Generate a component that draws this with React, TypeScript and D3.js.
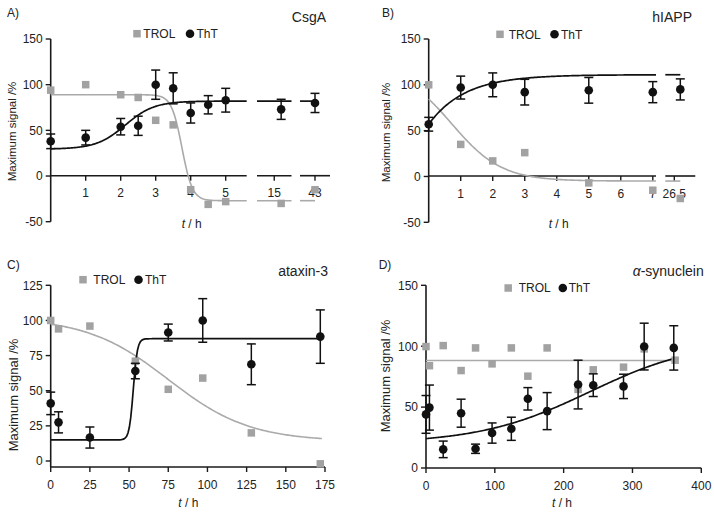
import React from 'react';
import * as d3 from 'd3';

const FONT = '"Liberation Sans", Arial, Helvetica, sans-serif';
const GREY = '#a2a2a2';
const GREY_LINE = '#aaaaaa';
const BLACK = '#111111';

// ---------- Panel A: CsgA ----------
const aTimeTROL = [0, 1, 2, 2.5, 3, 3.5, 4, 4.5, 5, 16, 43];
const aTROL = [94, 100, 89, 86, 61, 56, -15, -31, -28, -30, -15];
const aTimeThT = [0, 1, 2, 2.5, 3, 3.5, 4, 4.5, 5, 16, 43];
const aThT = [38, 42, 54, 55, 100, 96, 69, 78, 83, 73, 80];
const aThTErr = [8, 8, 9, 10.5, 16, 17, 11, 10, 13, 11, 10.5];
const aXTicks = [1, 2, 3, 4, 5, 15, 43];
const aXTickLabels = ['1', '2', '3', '4', '5', '15', '43'];
const aYTicks = [-50, 0, 50, 100, 150];
// fitted curves: [bottom, top, midpoint, slope]
const aFitTROL = [-27, 89, 3.75, 0.15];
const aFitThT = [29.5, 82, 2.13, 0.415];

// ---------- Panel B: hIAPP ----------
const bTime = [0, 1, 2, 3, 5, 7, 27.5];
const bTROL = [100, 35, 17, 26, -7, -15, -24];
const bThT = [57, 97, 100, 92, 94, 92, 95];
const bThTErr = [7.5, 12.5, 13, 14, 14, 11.5, 11.5];
const bXTicks = [1, 2, 3, 4, 5, 6, 7, 26.5];
const bXTickLabels = ['1', '2', '3', '4', '5', '6', '7', '26.5'];
const bYTicks = [-50, 0, 50, 100, 150];
const bFitTROL = [-5, 120, 0.72, 0.78];
const bFitThT = [111, 57, 0.88]; // plateau, start, rate

// ---------- Panel C: ataxin-3 ----------
const cTime = [0, 5, 25, 54, 75, 97, 128, 172];
const cTROL = [100, 94, 96, 71, 51, 59, 20, -2];
const cThT = [41, 27.5, 16.7, 64, 91.4, 100, 68.8, 88.5];
const cThTErr = [8, 7.5, 7.5, 5.5, 6, 15.5, 14.5, 19];
const cXTicks = [0, 25, 50, 75, 100, 125, 150, 175];
const cYTicks = [0, 25, 50, 75, 100, 125];
const cFitTROL = [14, 102, 75, 26];
const cFitThT = [15, 87, 52.7, 1.3];

// ---------- Panel D: alpha-synuclein ----------
const dTimeTROL = [0, 5, 25, 51, 72, 96, 124, 148, 176, 221, 243, 287, 317, 362];
const dTROL = [99.7, 84, 100.5, 80, 98.6, 85.5, 98.6, 75.4, 98.6, 64.5, 80.6, 82.8, 97.8, 88.5];
const dTimeThT = [0, 5, 25, 51, 72, 96, 124, 148, 176, 221, 243, 287, 317, 360];
const dThT = [44, 49.6, 15.3, 45, 15.8, 28.7, 32.2, 56.8, 46.7, 68.5, 68, 67, 99.7, 98.6];
const dThTErr = [15.5, 18.5, 6.8, 11.5, 3.8, 8.3, 9.5, 9.2, 15.2, 20, 9.3, 10, 19.2, 18.2];
const dXTicks = [0, 100, 200, 300, 400];
const dYTicks = [0, 50, 100, 150];
const dFitTROL = [88.3];
const dFitThT = [20, 105, 237.6, 80];

type Seg = { d: [number, number]; r: [number, number] };

const sigDown = (p: number[]) => (x: number) => p[0] + (p[1] - p[0]) / (1 + Math.exp((x - p[2]) / p[3]));
const sigUp = (p: number[]) => (x: number) => p[0] + (p[1] - p[0]) / (1 + Math.exp(-(x - p[2]) / p[3]));
const expRise = (p: number[]) => (x: number) => p[0] - (p[0] - p[1]) * Math.exp(-p[2] * x);
const flat = (p: number[]) => (_x: number) => p[0];

function broken(segs: Seg[]) {
  const sc = segs.map((s) => d3.scaleLinear().domain(s.d).range(s.r));
  const f = (v: number) => {
    for (let i = 0; i < segs.length; i++) if (v <= segs[i].d[1] + 1e-9) return sc[i](v);
    return sc[sc.length - 1](v);
  };
  return { f, sc };
}

interface PanelCfg {
  label: string; labelX: number; labelY: number;
  title: React.ReactNode; titleX: number; titleY: number;
  y: d3.ScaleLinear<number, number>; yTicks: number[]; yAxisX: number; yAxisTop: number; yAxisBottom: number;
  xSegs: Seg[]; xAxisY: number; xTicks: number[]; xTickLabels: string[];
  yTitleX: number; yTitleCy: number; yTitleSize: number;
  xTitleCx: number; xTitleY: number;
  legSqX: number; legY: number; legTrolX: number; legCircX: number; legThtX: number; legSize: number;
  tTROL: number[]; vTROL: number[]; tThT: number[]; vThT: number[]; eThT: number[];
  fitTROL: (x: number) => number; fitThT: (x: number) => number;
  curveTROL: [number, number]; curveThT: [number, number];
}

const panels: PanelCfg[] = [
  {
    label: 'A)', labelX: 7, labelY: 17, title: 'CsgA', titleX: 326, titleY: 22,
    y: d3.scaleLinear().domain([-50, 150]).range([221.7, 39]), yTicks: aYTicks, yAxisX: 50.7, yAxisTop: 39, yAxisBottom: 221.7,
    xSegs: [{ d: [0, 5.6], r: [50.7, 246.7] }, { d: [12.5, 17.5], r: [257, 291.5] }, { d: [41, 45], r: [300, 330] }],
    xAxisY: 175.7, xTicks: aXTicks, xTickLabels: aXTickLabels,
    yTitleX: 16, yTitleCy: 131.5, yTitleSize: 11.5, xTitleCx: 191.7, xTitleY: 228,
    legSqX: 137, legY: 33.7, legTrolX: 143.3, legCircX: 190, legThtX: 196.5, legSize: 12,
    tTROL: aTimeTROL, vTROL: aTROL, tThT: aTimeThT, vThT: aThT, eThT: aThTErr,
    fitTROL: sigDown(aFitTROL), fitThT: sigUp(aFitThT), curveTROL: [0, 43], curveThT: [0, 43],
  },
  {
    label: 'B)', labelX: 382, labelY: 17, title: 'hIAPP', titleX: 692, titleY: 22,
    y: d3.scaleLinear().domain([-50, 150]).range([222.3, 39]), yTicks: bYTicks, yAxisX: 428.7, yAxisTop: 39, yAxisBottom: 222.3,
    xSegs: [{ d: [0, 7.1], r: [428.7, 656] }, { d: [25, 30], r: [665.3, 695.3] }],
    xAxisY: 176, xTicks: bXTicks, xTickLabels: bXTickLabels,
    yTitleX: 389.5, yTitleCy: 132.5, yTitleSize: 11.5, xTitleCx: 558.7, xTitleY: 228,
    legSqX: 500, legY: 34.3, legTrolX: 508.7, legCircX: 554.5, legThtX: 561, legSize: 12,
    tTROL: bTime, vTROL: bTROL, tThT: bTime, vThT: bThT, eThT: bThTErr,
    fitTROL: sigDown(bFitTROL), fitThT: expRise(bFitThT), curveTROL: [0, 27.5], curveThT: [0, 27.5],
  },
  {
    label: 'C)', labelX: 7, labelY: 269, title: 'ataxin-3', titleX: 328, titleY: 275.5,
    y: d3.scaleLinear().domain([0, 125]).range([461, 285.3]), yTicks: cYTicks, yAxisX: 50.7, yAxisTop: 285.3, yAxisBottom: 467,
    xSegs: [{ d: [0, 175], r: [50.7, 325] }],
    xAxisY: 467, xTicks: cXTicks, xTickLabels: cXTicks.map(String),
    yTitleX: 17.5, yTitleCy: 395, yTitleSize: 13, xTitleCx: 188.3, xTitleY: 507,
    legSqX: 83, legY: 279.7, legTrolX: 93.3, legCircX: 138.5, legThtX: 145, legSize: 12,
    tTROL: cTime, vTROL: cTROL, tThT: cTime, vThT: cThT, eThT: cThTErr,
    fitTROL: sigDown(cFitTROL), fitThT: sigUp(cFitThT), curveTROL: [0, 173], curveThT: [0, 173],
  },
  {
    label: 'D)', labelX: 378.7, labelY: 269,
    title: (<><tspan fontStyle="italic">α</tspan>-synuclein</>), titleX: 703.7, titleY: 275.5,
    y: d3.scaleLinear().domain([0, 150]).range([468, 285.3]), yTicks: dYTicks, yAxisX: 426, yAxisTop: 285.3, yAxisBottom: 468,
    xSegs: [{ d: [0, 400], r: [426, 701.3] }],
    xAxisY: 468, xTicks: dXTicks, xTickLabels: dXTicks.map(String),
    yTitleX: 389.5, yTitleCy: 376, yTitleSize: 13, xTitleCx: 562, xTitleY: 507,
    legSqX: 508.2, legY: 288, legTrolX: 518.7, legCircX: 562.8, legThtX: 568.7, legSize: 12,
    tTROL: dTimeTROL, vTROL: dTROL, tThT: dTimeThT, vThT: dThT, eThT: dThTErr,
    fitTROL: flat(dFitTROL), fitThT: sigUp(dFitThT), curveTROL: [0, 363], curveThT: [0, 363],
  },
];

const SQ = 7.5;
const R = 4.3;
const CAP = 4.5;

function Panel({ p }: { p: PanelCfg }) {
  const xs = broken(p.xSegs);
  const y = p.y;
  const line = d3.line<[number, number]>().x((d) => d[0]).y((d) => d[1]);
  const curvePaths = (fn: (x: number) => number, range: [number, number]) =>
    p.xSegs
      .map((s, i) => {
        const a = Math.max(range[0], s.d[0]);
        const b = Math.min(range[1], s.d[1]);
        if (b <= a) return null;
        const pts = d3.range(0, 201).map((k) => {
          const t = a + ((b - a) * k) / 200;
          return [xs.sc[i](t), y(fn(t))] as [number, number];
        });
        return line(pts);
      })
      .filter((d): d is string => !!d);

  return (
    <g>
      <text x={p.labelX} y={p.labelY} fontSize={12} fill="#222">{p.label}</text>
      <text x={p.titleX} y={p.titleY} fontSize={14} textAnchor="end" fill="#222">{p.title}</text>

      {/* legend */}
      <rect x={p.legSqX - SQ / 2} y={p.legY - SQ / 2} width={SQ} height={SQ} fill={GREY} />
      <text x={p.legTrolX} y={p.legY + 4.3} fontSize={p.legSize} fill="#222">TROL</text>
      <circle cx={p.legCircX} cy={p.legY} r={R} fill={BLACK} />
      <text x={p.legThtX} y={p.legY + 4.3} fontSize={p.legSize} fill="#222">ThT</text>

      {/* y axis */}
      <line x1={p.yAxisX} x2={p.yAxisX} y1={p.yAxisTop} y2={p.yAxisBottom} stroke="#1a1a1a" strokeWidth={1.6} />
      {p.yTicks.map((t) => (
        <g key={'yt' + t}>
          <line x1={p.yAxisX - 5} x2={p.yAxisX} y1={y(t)} y2={y(t)} stroke="#1a1a1a" strokeWidth={1.4} />
          <text x={p.yAxisX - 8} y={y(t)} dy="0.36em" fontSize={12} textAnchor="end" fill="#222">{t}</text>
        </g>
      ))}
      <text transform={`translate(${p.yTitleX},${p.yTitleCy}) rotate(-90)`} fontSize={p.yTitleSize} textAnchor="middle" fill="#222">
        Maximum signal /%
      </text>

      {/* x axis */}
      {p.xSegs.map((s, i) => (
        <line key={'xs' + i} x1={s.r[0]} x2={s.r[1]} y1={p.xAxisY} y2={p.xAxisY} stroke="#1a1a1a" strokeWidth={1.6} />
      ))}
      {p.xTicks.map((t, i) => (
        <g key={'xt' + i}>
          <line x1={xs.f(t)} x2={xs.f(t)} y1={p.xAxisY} y2={p.xAxisY + 5} stroke="#1a1a1a" strokeWidth={1.4} />
          <text x={xs.f(t)} y={p.xAxisY + 21.5} fontSize={12} textAnchor="middle" fill="#222">{p.xTickLabels[i]}</text>
        </g>
      ))}
      <text x={p.xTitleCx} y={p.xTitleY} fontSize={12} textAnchor="middle" fill="#222">
        <tspan fontStyle="italic">t</tspan> / h
      </text>

      {/* fitted curves */}
      {curvePaths(p.fitTROL, p.curveTROL).map((d, i) => (
        <path key={'ct' + i} d={d} fill="none" stroke={GREY_LINE} strokeWidth={1.6} />
      ))}
      {curvePaths(p.fitThT, p.curveThT).map((d, i) => (
        <path key={'ch' + i} d={d} fill="none" stroke={BLACK} strokeWidth={1.7} />
      ))}

      {/* TROL squares */}
      {p.tTROL.map((t, i) => (
        <rect key={'sq' + i} x={xs.f(t) - SQ / 2} y={y(p.vTROL[i]) - SQ / 2} width={SQ} height={SQ} fill={GREY} />
      ))}

      {/* ThT error bars + circles */}
      {p.tThT.map((t, i) => {
        const cx = xs.f(t);
        const y1 = y(p.vThT[i] + p.eThT[i]);
        const y2 = y(p.vThT[i] - p.eThT[i]);
        return (
          <g key={'th' + i}>
            <line x1={cx} x2={cx} y1={y1} y2={y2} stroke={BLACK} strokeWidth={1.5} />
            <line x1={cx - CAP} x2={cx + CAP} y1={y1} y2={y1} stroke={BLACK} strokeWidth={1.5} />
            <line x1={cx - CAP} x2={cx + CAP} y1={y2} y2={y2} stroke={BLACK} strokeWidth={1.5} />
            <circle cx={cx} cy={y(p.vThT[i])} r={R} fill={BLACK} />
          </g>
        );
      })}
    </g>
  );
}

export default function App() {
  return (
    <svg width={714} height={514} viewBox="0 0 714 514" style={{ position: 'absolute', left: 0, top: 0, background: '#fff' }} fontFamily={FONT}>
      <rect width={714} height={514} fill="#fff" />
      {panels.map((p) => (
        <Panel key={p.label} p={p} />
      ))}
    </svg>
  );
}
